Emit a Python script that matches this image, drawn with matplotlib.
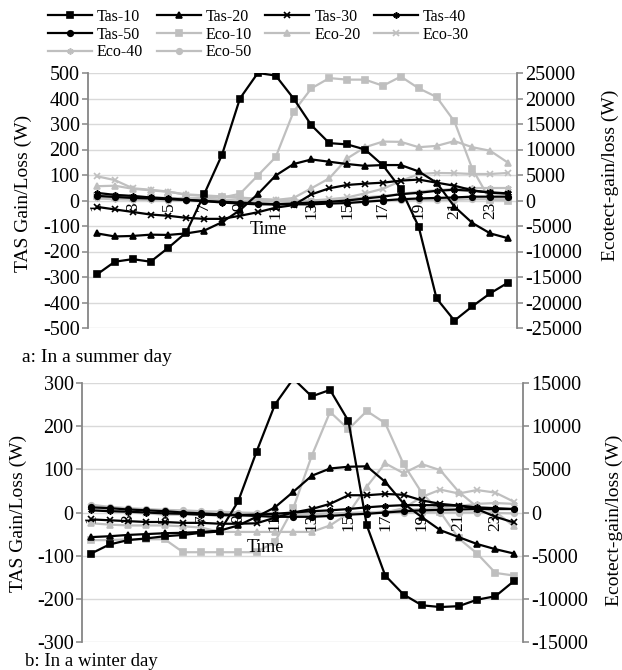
import matplotlib
matplotlib.use('Agg')
import matplotlib.pyplot as plt
from matplotlib.lines import Line2D

plt.rcParams['font.family'] = ['Liberation Serif', 'DejaVu Serif']
plt.rcParams['font.size'] = 14
plt.rcParams['axes.unicode_minus'] = False

hours = list(range(1, 25))
hour_ticks = list(range(1, 24, 2))
names = ['10', '20', '30', '40', '50']

# summer day, TAS (W)
tas10_s = [-290, -240, -230, -240, -185, -125, 25, 180, 400, 500, 490, 400, 295, 225, 220, 200, 138, 46, -103, -384, -471, -415, -364, -322]
tas20_s = [-129, -141, -139, -134, -135, -129, -118, -85, -38, 25, 98, 143, 161, 152, 143, 136, 139, 139, 114, 70, -24, -88, -129, -148]
tas30_s = [-25, -35, -45, -55, -60, -68, -72, -72, -60, -46, -28, -18, 24, 48, 61, 66, 70, 78, 82, 70, 58, 40, 30, 27]
tas40_s = [30, 22, 18, 12, 8, 3, -2, -8, -12, -15, -15, -12, -8, -5, 0, 8, 15, 25, 30, 38, 42, 38, 32, 28]
tas50_s = [18, 14, 10, 8, 5, 2, -2, -5, -8, -12, -15, -15, -15, -12, -10, -5, 0, 5, 8, 10, 12, 15, 15, 15]
# summer day, Ecotect (W)
eco10_s = [800, 600, 500, 500, 400, 400, 500, 600, 1300, 4900, 8500, 17400, 22000, 24000, 23700, 23700, 22500, 24300, 22000, 20300, 15500, 6200, 100, 0]
eco20_s = [2800, 2900, 2300, 2000, 1700, 1200, 1000, 800, 600, 300, 100, 500, 2400, 4350, 8250, 10450, 11550, 11500, 10450, 10700, 11650, 10450, 9750, 7400]
eco30_s = [4750, 4000, 2400, 2100, 1750, 1100, 900, 700, 500, 250, 150, 0, 0, 250, 600, 1400, 2300, 3800, 5200, 5400, 5350, 5200, 5200, 5400]
eco40_s = [400, 250, 150, 100, 0, -100, -150, -200, -250, -250, -250, -250, -150, 0, 250, 600, 900, 1250, 1750, 2000, 2300, 2450, 2450, 2450]
eco50_s = [1000, 1100, 750, 600, 500, 400, 250, 150, 0, 0, 0, -100, -150, -100, 0, 0, 0, 50, 100, 100, 150, 250, 250, 250]

# winter day, TAS (W)
tas10_w = [-95, -74, -64, -60, -55, -52, -47, -44, 26, 141, 250, 310, 269, 284, 212, -30, -146, -190, -215, -219, -217, -202, -194, -159]
tas20_w = [-57, -55, -52, -50, -48, -47, -45, -42, -30, -10, 12, 48, 85, 102, 106, 107, 71, 21, -11, -41, -57, -73, -85, -95]
tas30_w = [-16, -18, -20, -22, -22, -24, -24, -26, -26, -25, -12, 0, 8, 20, 40, 40, 43, 41, 28, 20, 16, 8, -10, -23]
tas40_w = [5, 3, 2, 0, -2, -3, -5, -6, -6, -5, -3, 0, 3, 5, 8, 12, 15, 17, 17, 17, 16, 12, 10, 8]
tas50_w = [12, 10, 7, 5, 3, 0, -2, -4, -6, -8, -10, -10, -10, -8, -5, -3, 0, 3, 5, 6, 7, 8, 8, 8]
# winter day, Ecotect (W)
eco10_w = [-3200, -3200, -3100, -3100, -3100, -4600, -4600, -4600, -4600, -4600, -3400, 500, 6550, 11650, 9650, 11750, 10350, 5600, 2250, 50, -3000, -4750, -7000, -7300]
eco20_w = [-1250, -1400, -1500, -1500, -1500, -1600, -1750, -2250, -2250, -2250, -2250, -2250, -2250, -1500, -100, 3000, 5700, 4550, 5600, 4900, 2400, 650, 100, -1600]
eco30_w = [600, 250, 100, 0, -100, -150, -250, -250, -250, -250, -250, -250, -250, -250, -150, -100, 0, 500, 1800, 2650, 2200, 2600, 2300, 1250]
eco40_w = [500, 250, 0, -100, -250, -250, -250, -400, -400, -400, -400, -400, -400, -250, -100, 0, 100, 250, 400, 600, 750, 1000, 1100, 1000]
eco50_w = [900, 650, 500, 400, 300, 250, 150, 100, 0, -50, -100, -150, -150, -100, -50, 0, 0, 0, 0, 0, 0, 0, -50, -100]

markers = ['s', '^', 'x', (6, 2, 0), 'o']
sizes = [4.5, 5, 4.5, 4.5, 4]
black = '#000000'
grey = '#BFBFBF'
axis_grey = '#868686'
grid_grey = '#D9D9D9'

fig = plt.figure(figsize=(6.22, 6.70), dpi=100)


def panel(rect, tas, eco, lim, lim2, step, step2):
    ax = fig.add_axes(rect)
    ax2 = ax.twinx()
    ax.set_zorder(ax2.get_zorder() + 1)
    ax.patch.set_visible(False)

    for vals, m, ms in zip(eco, markers, sizes):
        ax2.plot(hours, vals, color=grey, lw=1.6, marker=m, ms=ms, mew=1.2,
                 mfc=grey, mec=grey)
    for vals, m, ms in zip(tas, markers, sizes):
        ax.plot(hours, vals, color=black, lw=1.6, marker=m, ms=ms, mew=1.2,
                mfc=black, mec=black, zorder=3)

    ax.set_xlim(0.5, 24.5)
    ax.set_ylim(-lim, lim)
    ax.set_yticks(range(-lim, lim + 1, step))
    ax2.set_ylim(-lim2, lim2)
    ax2.set_yticks(range(-lim2, lim2 + 1, step2))
    ax2.yaxis.grid(True, color=grid_grey, lw=1)
    ax2.set_axisbelow(True)

    ax.set_xticks(hour_ticks)
    ax.spines['bottom'].set_position(('data', 0))
    ax.tick_params(axis='x', length=0, pad=1, labelrotation=90, labelsize=12.5)
    for s in ['top', 'bottom', 'right']:
        ax.spines[s].set_visible(False)
    for s in ['top', 'bottom', 'left']:
        ax2.spines[s].set_visible(False)
    ax.spines['left'].set_color(axis_grey)
    ax.spines['left'].set_linewidth(1.3)
    ax2.spines['right'].set_color(axis_grey)
    ax2.spines['right'].set_linewidth(1.3)
    ax.tick_params(axis='y', length=4, width=1.1, color=axis_grey, pad=2,
                   labelsize=14.5)
    ax2.tick_params(axis='y', length=4, width=1.1, color=axis_grey, pad=2,
                    labelsize=14.5)
    return ax


ax_top = panel([88 / 622, 1 - 328 / 670, 429 / 622, 255 / 670],
               [tas10_s, tas20_s, tas30_s, tas40_s, tas50_s],
               [eco10_s, eco20_s, eco30_s, eco40_s, eco50_s],
               500, 25000, 100, 5000)
ax_bot = panel([82 / 622, 1 - 642 / 670, 441 / 622, 259 / 670],
               [tas10_w, tas20_w, tas30_w, tas40_w, tas50_w],
               [eco10_w, eco20_w, eco30_w, eco40_w, eco50_w],
               300, 15000, 100, 5000)

# axis titles and captions (pixel positions from the original)
W, H = 622, 670
fig.text(23 / W, 1 - 193 / H, 'TAS Gain/Loss (W)', rotation=90, ha='center', va='center')
fig.text(610 / W, 1 - 175 / H, 'Ecotect-gain/loss (W)', rotation=90, ha='center', va='center')
fig.text(18 / W, 1 - 513 / H, 'TAS Gain/Loss (W)', rotation=90, ha='center', va='center')
fig.text(614 / W, 1 - 520 / H, 'Ecotect-gain/loss (W)', rotation=90, ha='center', va='center')
fig.text(268 / W, 1 - 230 / H, 'Time', ha='center', va='center', fontsize=13)
fig.text(265 / W, 1 - 548 / H, 'Time', ha='center', va='center', fontsize=13)
fig.text(22 / W, 1 - 362 / H, 'a: In a summer day', ha='left', va='baseline')
fig.text(25 / W, 1 - 665.5 / H, 'b: In a winter day', ha='left', va='baseline',
         fontsize=13.5)

# legend, filled row by row like the original
handles = {}
for n, m, ms in zip(names, markers, sizes):
    handles['Tas-' + n] = Line2D([], [], color=black, lw=1.6, marker=m, ms=ms,
                                 mew=1.2, mfc=black, mec=black)
    handles['Eco-' + n] = Line2D([], [], color=grey, lw=1.6, marker=m, ms=ms,
                                 mew=1.2, mfc=grey, mec=grey)
row_order = ['Tas-10', 'Tas-20', 'Tas-30', 'Tas-40', 'Tas-50',
             'Eco-10', 'Eco-20', 'Eco-30', 'Eco-40', 'Eco-50']
col_order = [row_order[i] for i in [0, 4, 8, 1, 5, 9, 2, 6, 3, 7]]
fig.legend([handles[k] for k in col_order], col_order, ncol=4,
           loc='upper left', bbox_to_anchor=(48 / W, 1 - 9 / H),
           frameon=False, fontsize=11.5, handlelength=2.75, handletextpad=0.31,
           columnspacing=0.85, labelspacing=0.1, borderpad=0, borderaxespad=0)

fig.savefig('out.png', dpi=100)
